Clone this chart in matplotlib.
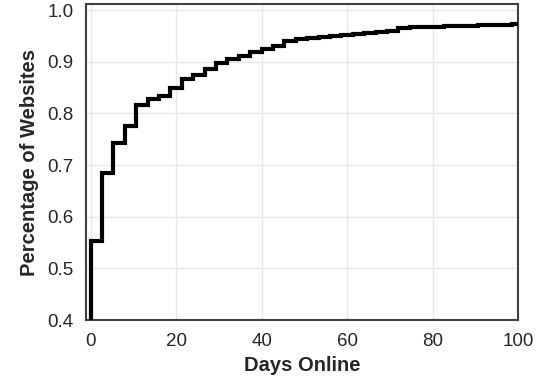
import matplotlib
matplotlib.use("Agg")
import matplotlib.pyplot as plt

# step start positions (days) and cumulative share of websites
days = [0, 0, 2.67, 5.33, 8.0, 10.67, 13.33, 16.0, 18.67, 21.33, 24.0, 26.67,
        29.33, 32.0, 34.67, 37.33, 40.0, 42.67, 45.33, 48.0, 50.67, 53.33,
        56.0, 58.67, 61.33, 64.0, 66.67, 69.33, 72.0, 74.67, 77.33, 80.0,
        82.67, 85.33, 88.0, 90.67, 93.33, 96.0, 98.67, 100.0]
share = [0.0, 0.552, 0.685, 0.743, 0.775, 0.817, 0.828, 0.834, 0.849, 0.866,
         0.874, 0.886, 0.898, 0.905, 0.912, 0.918, 0.925, 0.931, 0.941, 0.944,
         0.946, 0.948, 0.950, 0.952, 0.954, 0.956, 0.958, 0.960, 0.966, 0.9665,
         0.967, 0.968, 0.969, 0.9695, 0.970, 0.971, 0.9715, 0.972, 0.973, 0.973]

x_ticks = [0, 20, 40, 60, 80, 100]
y_ticks = [0.4, 0.5, 0.6, 0.7, 0.8, 0.9, 1.0]

plt.rcParams['font.family'] = ['Liberation Sans', 'DejaVu Sans']

fig = plt.figure(figsize=(5.5, 3.78), dpi=100)
ax = fig.add_axes([0.157, 0.1534, 0.785, 0.835])

ax.plot(days, share, drawstyle='steps-post', color='black', lw=3,
        solid_joinstyle='miter', zorder=3)

ax.set_xlim(-1, 100)
ax.set_ylim(0.4, 1.011)
ax.set_xticks(x_ticks)
ax.set_yticks(y_ticks)
ax.set_yticklabels([f"{v:.1f}" for v in y_ticks])
ax.grid(True, color='#e8e8e8', lw=1, zorder=0)
ax.tick_params(length=0, labelsize=13.5, pad=9, colors='#262626')
for s in ax.spines.values():
    s.set_color('#404040')
    s.set_linewidth(1.5)

ax.set_xlabel('Days Online', fontsize=14.5, fontweight='bold', labelpad=5,
              color='#262626')
ax.set_ylabel('Percentage of Websites', fontsize=14.5, fontweight='bold',
              labelpad=6, color='#262626')

fig.savefig('out.png', dpi=100)
